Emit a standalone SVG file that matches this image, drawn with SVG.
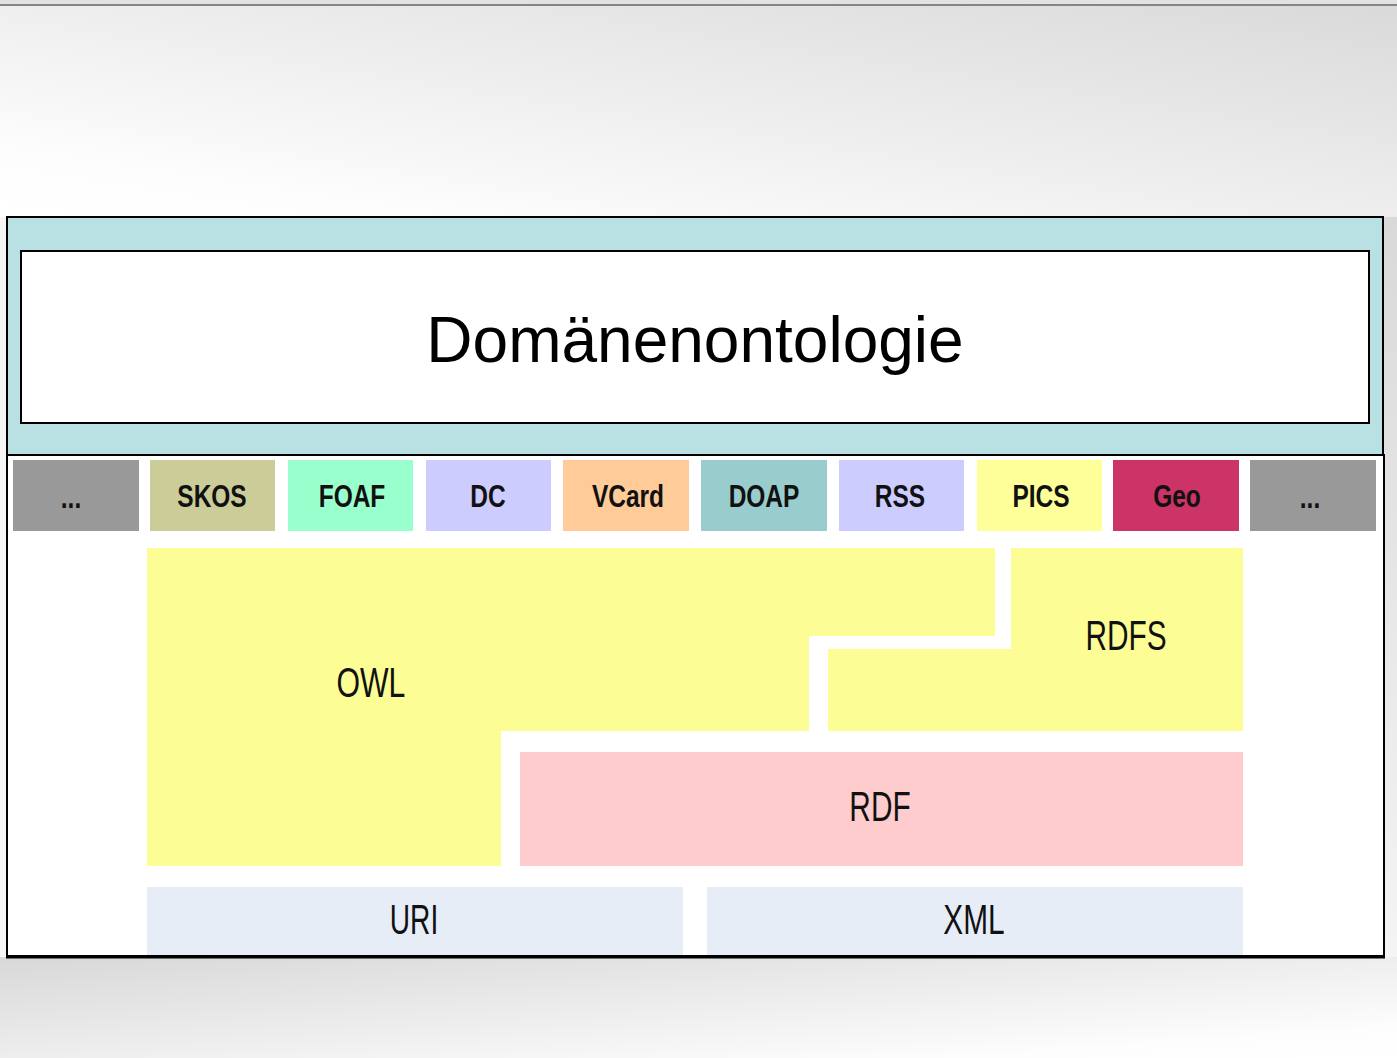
<svg xmlns="http://www.w3.org/2000/svg" width="1397" height="1058" viewBox="0 0 1397 1058">
<defs>
<linearGradient id="bgTop" x1="0" y1="1" x2="1" y2="0">
<stop offset="0" stop-color="#ffffff"/>
<stop offset="0.15" stop-color="#fdfdfd"/>
<stop offset="1" stop-color="#d9d9d9"/>
</linearGradient>
<linearGradient id="bgBot" x1="0" y1="0" x2="1" y2="1">
<stop offset="0" stop-color="#d8d8d8"/>
<stop offset="0.85" stop-color="#fdfdfd"/>
<stop offset="1" stop-color="#ffffff"/>
</linearGradient>
<linearGradient id="bgRight" x1="0" y1="0" x2="0" y2="1">
<stop offset="0" stop-color="#d9d9d9"/>
<stop offset="1" stop-color="#f4f4f4"/>
</linearGradient>
<style>
.lib{font-family:"Liberation Sans",Arial,sans-serif;text-anchor:middle;fill:#111}
.small{font-size:31px;font-weight:bold}
.big{font-size:42px}
.layer{stroke:none}
</style>
</defs>
<rect x="0" y="0" width="1397" height="1058" fill="#f2f2f2"/>
<rect x="0" y="0" width="1397" height="217" fill="url(#bgTop)"/>
<rect x="0" y="957" width="1397" height="101" fill="url(#bgBot)"/>
<rect x="1384" y="217" width="13" height="740" fill="url(#bgRight)"/>
<rect x="0" y="217" width="7" height="740" fill="#f6f6f6"/>
<rect x="0" y="0" width="1397" height="4" fill="#e2e2e2"/>
<rect x="0" y="4" width="1397" height="2" fill="#858585"/>

<g id="domain">
<rect x="7" y="217" width="1376" height="238" fill="#b9e0e2" stroke="#000" stroke-width="2"/>
<rect x="21" y="251" width="1348" height="172" fill="#fff" stroke="#000" stroke-width="2"/>
<text x="695" y="362" font-family="Liberation Sans, Arial, sans-serif" font-size="64" text-anchor="middle" fill="#000">Domänenontologie</text>
</g>

<g id="stack">
<rect x="7" y="455" width="1377" height="501" fill="#fff" stroke="#000" stroke-width="2"/>
<line x1="6" y1="957" x2="1385" y2="957" stroke="#000" stroke-width="3"/>
</g>

<g id="vocabularies">
<g id="v-dots1"><rect x="13" y="460" width="126" height="71" fill="#999999"/><text class="lib small" transform="translate(71,508) scale(0.79,1)">...</text></g>
<g id="v-skos"><rect x="150" y="460" width="125" height="71" fill="#cccc99"/><text class="lib small" transform="translate(212,507) scale(0.79,1)">SKOS</text></g>
<g id="v-foaf"><rect x="288" y="460" width="125" height="71" fill="#99ffcc"/><text class="lib small" transform="translate(352,507) scale(0.79,1)">FOAF</text></g>
<g id="v-dc"><rect x="426" y="460" width="125" height="71" fill="#ccccff"/><text class="lib small" transform="translate(488,507) scale(0.79,1)">DC</text></g>
<g id="v-vcard"><rect x="563" y="460" width="126" height="71" fill="#ffcc99"/><text class="lib small" transform="translate(628,507) scale(0.79,1)">VCard</text></g>
<g id="v-doap"><rect x="701" y="460" width="126" height="71" fill="#99cccc"/><text class="lib small" transform="translate(764,507) scale(0.79,1)">DOAP</text></g>
<g id="v-rss"><rect x="839" y="460" width="125" height="71" fill="#ccccff"/><text class="lib small" transform="translate(900,507) scale(0.79,1)">RSS</text></g>
<g id="v-pics"><rect x="977" y="460" width="125" height="71" fill="#ffff99"/><text class="lib small" transform="translate(1041,507) scale(0.79,1)">PICS</text></g>
<g id="v-geo"><rect x="1113" y="460" width="126" height="71" fill="#cc3366"/><text class="lib small" transform="translate(1177,507) scale(0.79,1)">Geo</text></g>
<g id="v-dots2"><rect x="1250" y="460" width="126" height="71" fill="#999999"/><text class="lib small" transform="translate(1310,508) scale(0.79,1)">...</text></g>
</g>

<g id="owl">
<polygon class="layer" points="147,548 995,548 995,636 809,636 809,731 501,731 501,866 147,866" fill="#fdfd96"/>
<text class="lib big" transform="translate(371,697) scale(0.72,1)">OWL</text>
</g>
<g id="rdfs">
<polygon class="layer" points="1011,548 1243,548 1243,731 828,731 828,649 1011,649" fill="#fdfd96"/>
<text class="lib big" transform="translate(1126,650) scale(0.71,1)">RDFS</text>
</g>
<g id="rdf">
<rect x="520" y="752" width="723" height="114" fill="#fecccc"/>
<text class="lib big" transform="translate(880,821) scale(0.71,1)">RDF</text>
</g>
<g id="uri">
<rect x="147" y="887" width="536" height="68" fill="#e6edf7"/>
<text class="lib big" transform="translate(414,934) scale(0.67,1)">URI</text>
</g>
<g id="xml">
<rect x="707" y="887" width="536" height="68" fill="#e6edf7"/>
<text class="lib big" transform="translate(974,934) scale(0.71,1)">XML</text>
</g>
<g id="connectors"/>
</svg>
